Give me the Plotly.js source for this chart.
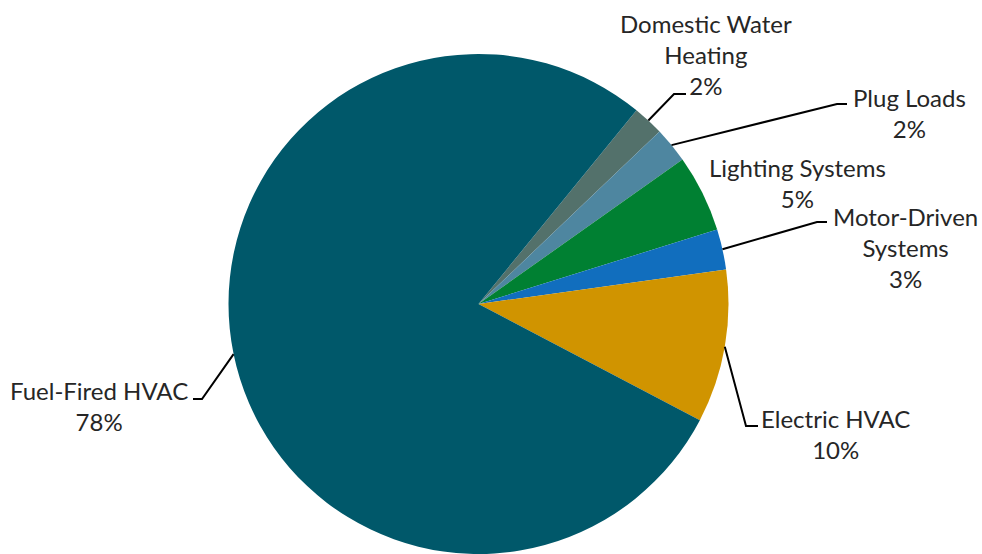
<!DOCTYPE html>
<html>
<head>
<meta charset="utf-8">
<script src="https://cdn.plot.ly/plotly-3.0.1.min.js"></script>
<style>html,body{margin:0;padding:0;background:#fff;}#chart{width:982px;height:554px;}</style>
</head>
<body>
<div id="chart"></div>
<script>
// ---- data ----
var categories = ["Domestic Water Heating", "Plug Loads", "Lighting Systems", "Motor-Driven Systems", "Electric HVAC", "Fuel-Fired HVAC"];
var labelText = ["Domestic Water<br>Heating<br>2%", "Plug Loads<br>2%", "Lighting Systems<br>5%", "Motor-Driven<br>Systems<br>3%", "Electric HVAC<br>10%", "Fuel-Fired HVAC<br>78%"];
var shares = [2.0, 2.3, 5.0, 2.6, 9.9, 78.2];
var colors = ["#53716B", "#4E86A0", "#008032", "#116EBE", "#D09400", "#00586A"];

// ---- layout helpers (pixel -> paper) ----
var W = 982, H = 554;
var rotation = 39.2;
var dom = {x: [228 / W, 729 / W], y: [0, 500 / H]};
var cx = W * (dom.x[0] + dom.x[1]) / 2;
var cy = H * (1 - (dom.y[0] + dom.y[1]) / 2);
var R = Math.min(W * (dom.x[1] - dom.x[0]), H * (dom.y[1] - dom.y[0])) / 2;
function px(x) { return x / W; }
function py(y) { return 1 - y / H; }

// label placement (text block centre) and leader elbows, in pixels
var labelPos = [[706, 54], [909, 113], [797, 183], [905, 248], [835, 434], [99, 406]];
var elbows = [[[674, 94], [686, 94]], [[837, 104], [847, 104]], null, [[817, 222], [827, 222]], [[746, 426], [758, 426]], [[202, 399], [193, 399]]];

var total = shares.reduce(function (a, b) { return a + b; }, 0);
var cum = 0;
var shapes = [];
var annotations = [];
for (var i = 0; i < shares.length; i++) {
  var mid = (rotation + (cum + shares[i] / 2) / total * 360) * Math.PI / 180;
  cum += shares[i];
  var sx = cx + R * Math.sin(mid), sy = cy - R * Math.cos(mid);
  if (elbows[i]) {
    var e = elbows[i];
    var path = "M" + px(sx) + "," + py(sy) + " L" + px(e[0][0]) + "," + py(e[0][1]) + " L" + px(e[1][0]) + "," + py(e[1][1]);
    shapes.push({type: "path", xref: "paper", yref: "paper", path: path, line: {color: "#000000", width: 2}});
  }
  annotations.push({
    xref: "paper", yref: "paper", x: px(labelPos[i][0]), y: py(labelPos[i][1]),
    xanchor: "center", yanchor: "middle", align: "center", showarrow: false,
    text: labelText[i], font: {family: "Lato, 'Open Sans', sans-serif", size: 24, color: "#262626"}
  });
}

var trace = {
  type: "pie",
  labels: categories,
  values: shares,
  sort: false,
  direction: "clockwise",
  rotation: rotation,
  marker: {colors: colors, line: {width: 0}},
  textinfo: "none",
  hoverinfo: "label+percent",
  showlegend: false,
  domain: dom
};

var layout = {
  width: W, height: H,
  margin: {l: 0, r: 0, t: 0, b: 0},
  paper_bgcolor: "#ffffff",
  plot_bgcolor: "#ffffff",
  showlegend: false,
  shapes: shapes,
  annotations: annotations
};

Plotly.newPlot("chart", [trace], layout, {displayModeBar: false, staticPlot: true});
</script>
</body>
</html>
